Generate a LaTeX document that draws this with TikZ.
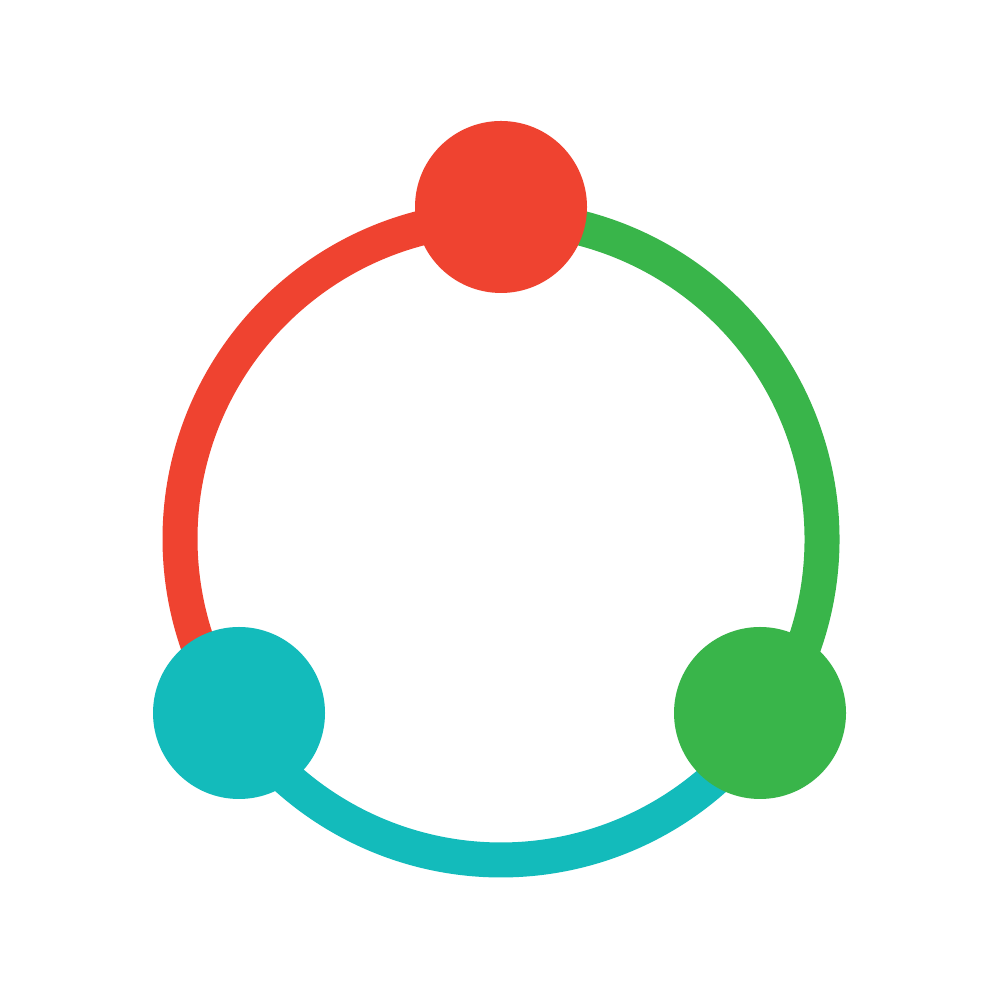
\documentclass[tikz,border=0pt]{standalone}
\definecolor{dotred}{HTML}{EF4330}
\definecolor{dotgreen}{HTML}{39B54A}
\definecolor{dotcyan}{HTML}{13BBBB}
\begin{document}
\begin{tikzpicture}
    [
      ring/.style = {line width = 0.35cm},
      dot/.style = {circle, minimum size = 1.72cm, inner sep = 0pt},
    ]

    \useasboundingbox[fill=white] (0,0) rectangle (10,10);
    \coordinate (ctr) at (5.01,4.61);

    \draw[ring, dotred] ([shift={(90:3.21)}]ctr) arc (90:213.6:3.21);
    \draw[ring, dotcyan] ([shift={(213.6:3.21)}]ctr) arc (213.6:326.4:3.21);
    \draw[ring, dotgreen] ([shift={(326.4:3.21)}]ctr) arc (326.4:450:3.21);

    \node[dot, fill=dotred] (top) at (5.01,7.93) {};
    \node[dot, fill=dotcyan] (left) at (2.39,2.87) {};
    \node[dot, fill=dotgreen] (right) at (7.60,2.87) {};

  \end{tikzpicture}
\end{document}
